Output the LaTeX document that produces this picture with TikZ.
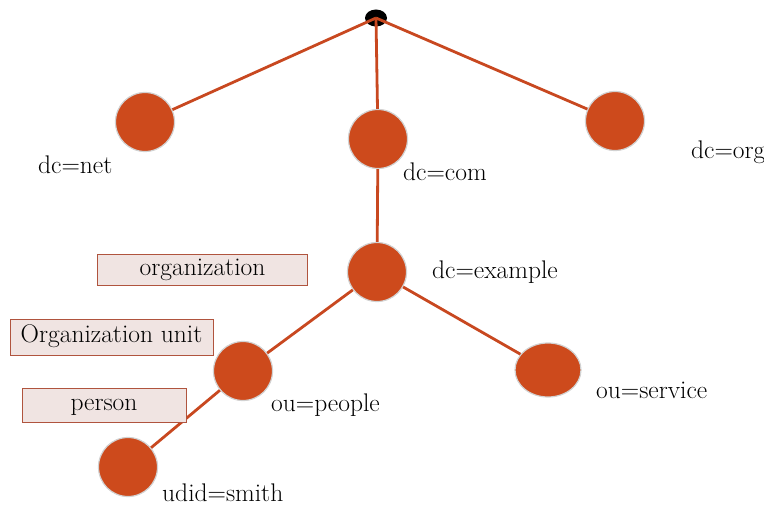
\documentclass[tikz,border=0pt]{standalone}
\usetikzlibrary{shapes.geometric}
\definecolor{nodeor}{RGB}{205,74,28}
\definecolor{edgeor}{RGB}{200,72,32}
\definecolor{boxfill}{RGB}{240,228,226}
\definecolor{boxline}{RGB}{176,84,62}
\tikzset{
  ent/.style={circle, fill=nodeor, draw=gray!35, line width=1.2pt, minimum size=59pt, inner sep=0pt},
  link/.style={draw=edgeor, line width=2.8pt},
  lbl/.style={font=\rmfamily\fontsize{25.5}{28}\selectfont, inner sep=0pt, text=black},
  tagbox/.style={draw=boxline, fill=boxfill, line width=1pt, font=\rmfamily\fontsize{25.5}{28}\selectfont, inner sep=0pt, text height=16pt, text depth=5pt}
}
\begin{document}
\begin{tikzpicture}[x=1pt,y=-1pt]
\useasboundingbox (0,0) rectangle (764,508);
% root
\node[ellipse, fill=black, minimum width=22pt, minimum height=17pt, inner sep=0pt] (root) at (376,18) {};
% entries
\node[ent] (net) at (145,122) {};
\node[ent] (com) at (378,139) {};
\node[ent] (org) at (615,121) {};
\node[ent] (ex) at (377,272) {};
\node[ent] (people) at (243,371) {};
\node[ent, ellipse, minimum width=66pt, minimum height=54pt] (service) at (548,370) {};
\node[ent] (smith) at (128,467) {};
% connectors
\draw[link] (root.center) -- (net);
\draw[link] (root.center) -- (com);
\draw[link] (root.center) -- (org);
\draw[link] (com) -- (ex);
\draw[link] (ex) -- (people);
\draw[link] (ex) -- (service);
\draw[link] (people) -- (smith);
% labels
\node[lbl, anchor=west] (lnet) at (38,165) {dc=net};
\node[lbl, anchor=west] (lcom) at (403,172) {dc=com};
\node[lbl, anchor=west] (lorg) at (691,152) {dc=org};
\node[lbl, anchor=west] (lex) at (432,272) {dc=example};
\node[lbl, anchor=west] (lpeople) at (271,405) {ou=people};
\node[lbl, anchor=west] (lservice) at (596,390) {ou=service};
\node[lbl, anchor=west] (lsmith) at (162,493) {udid=smith};
% type boxes
\node[tagbox, minimum width=210pt, minimum height=30pt] (torg) at (202.5,270) {organization};
\node[tagbox, minimum width=203pt, minimum height=36pt] (tou) at (111.5,337) {Organization unit};
\node[tagbox, minimum width=164pt, minimum height=34pt] (tperson) at (104,405) {person};
\end{tikzpicture}
\end{document}
